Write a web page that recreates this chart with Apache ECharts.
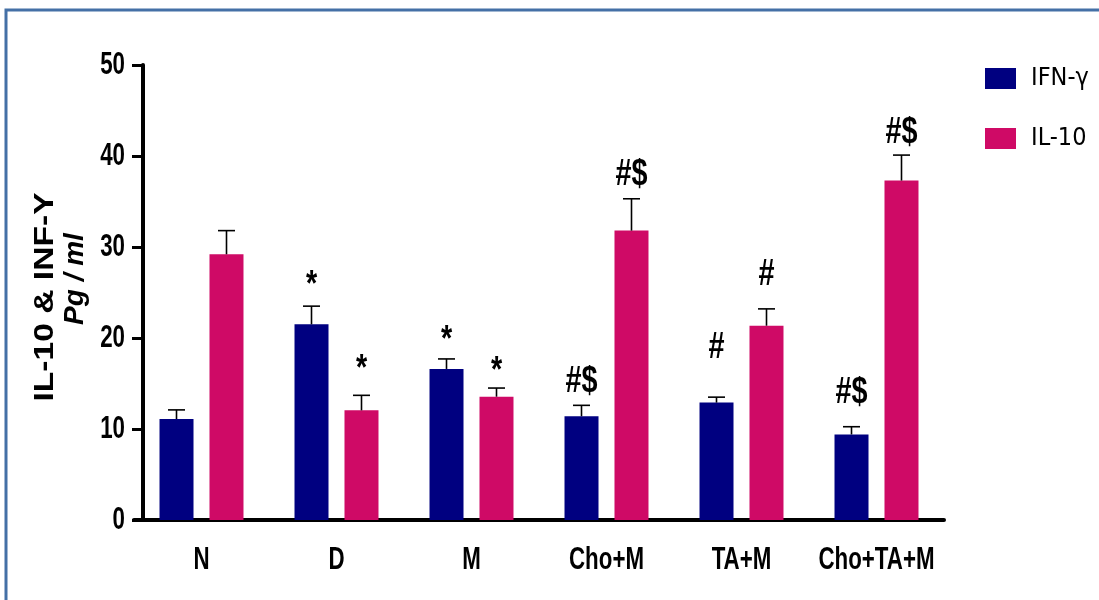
<!DOCTYPE html>
<html>
<head>
<meta charset="utf-8">
<script src="https://cdn.jsdelivr.net/npm/echarts@6/dist/echarts.min.js"></script>
<style>
  html, body { margin: 0; padding: 0; background: #fff; }
  #chart { width: 1099px; height: 600px; }
</style>
</head>
<body>
<div id="chart"></div>
<script>
// groups on the x axis
const groups = ['N', 'D', 'M', 'Cho+M', 'TA+M', 'Cho+TA+M'];
const yTicks = [0, 10, 20, 30, 40, 50];

// means and SEM
const ifnMean = [11.1, 21.5, 16.6, 11.4, 12.9, 9.4];
const ifnSem = [1.0, 2.0, 1.1, 1.2, 0.6, 0.85];
const ilMean = [29.2, 12.05, 13.55, 31.8, 21.35, 37.3];
const ilSem = [2.6, 1.65, 0.95, 3.5, 1.85, 2.8];

// significance marks and the height they sit at
const ifnMarks = ['', '*', '*', '#$', '#', '#$'];
const ifnMarkY = [0, 26.7, 20.7, 15.2, 18.9, 14.0];
const ilMarks = ['', '*', '*', '#$', '#', '#$'];
const ilMarkY = [0, 17.5, 17.25, 37.9, 26.9, 42.5];

// the figure's text is Arial bold squeezed sideways
const SANS = '"Liberation Sans", Arial, sans-serif';
const SQUEEZE = 0.72;
const BLUE = '#000080';
const PINK = '#CF0A66';

let chart = echarts.init(document.getElementById('chart'));

function errRender(offset) {
  return function (params, api) {
    let i = api.value(0);
    let top = api.coord([i, api.value(1) + api.value(2)]);
    let base = api.coord([i, api.value(1)]);
    let x = top[0] + offset;
    let st = { stroke: '#000', lineWidth: 1.6 };
    return {
      type: 'group',
      children: [
        { type: 'line', shape: { x1: x, y1: base[1], x2: x, y2: top[1] }, style: st },
        { type: 'line', shape: { x1: x - 8.5, y1: top[1], x2: x + 8.5, y2: top[1] }, style: st }
      ]
    };
  };
}

function markRender(offset, marks) {
  return function (params, api) {
    let i = api.value(0);
    let txt = marks[i];
    if (!txt) return null;
    let p = api.coord([i, api.value(1)]);
    let dy = txt === '*' ? 9 : 0;
    return {
      type: 'text',
      x: p[0] + offset,
      y: p[1] + dy,
      scaleX: 0.8,
      style: {
        text: txt,
        fill: '#000',
        font: 'bold 36px ' + SANS,
        align: 'center',
        verticalAlign: 'middle'
      }
    };
  };
}

// category names under the x axis ticks
function xLabelRender(params, api) {
  let i = api.value(0);
  let p = api.coord([i, 0]);
  return {
    type: 'text',
    x: p[0],
    y: p[1] + 40,
    scaleX: SQUEEZE,
    style: { text: groups[i], fill: '#000', font: 'bold 31px ' + SANS, align: 'center', verticalAlign: 'middle' }
  };
}

// numbers beside the y axis ticks
function yLabelRender(params, api) {
  let v = api.value(1);
  let p = api.coord([0, v]);
  return {
    type: 'text',
    x: params.coordSys.x - 9,
    y: p[1],
    scaleX: SQUEEZE,
    style: { text: String(v), fill: '#000', font: 'bold 31px ' + SANS, align: 'right', verticalAlign: 'middle' }
  };
}

let option = {
  animation: false,
  backgroundColor: '#fff',
  grid: { left: 134, width: 810, top: 65, bottom: 80 },
  legend: {
    orient: 'vertical',
    left: 980,
    top: 61,
    itemWidth: 31,
    itemHeight: 21,
    itemGap: 35,
    icon: 'rect',
    data: ['IFN-γ', 'IL-10'],
    textStyle: { fontFamily: "'DejaVu Sans Condensed', sans-serif", fontSize: 25, color: '#000', lineHeight: 21, padding: [0, 0, 0, 10] }
  },
  xAxis: {
    type: 'category',
    data: groups,
    axisLine: { lineStyle: { color: '#000', width: 4 } },
    axisTick: { alignWithLabel: true, length: 11, lineStyle: { color: '#000', width: 3 } },
    axisLabel: { show: false }
  },
  yAxis: {
    type: 'value',
    min: 0,
    max: 50,
    interval: 10,
    offset: -9,
    splitLine: { show: false },
    axisLine: { show: true, lineStyle: { color: '#000', width: 4 } },
    axisTick: { show: true, length: 11, lineStyle: { color: '#000', width: 3 } },
    axisLabel: { show: false }
  },
  graphic: [
    {
      type: 'rect', silent: true,
      shape: { x: 6, y: 10, width: 1300, height: 800 },
      style: { fill: null, stroke: '#4470A6', lineWidth: 3 }
    },
    {
      type: 'text', x: 45, y: 297, rotation: Math.PI / 2, scaleX: 1.2,
      style: { text: 'IL-10 & INF-Y', font: 'bold 28px ' + SANS, fill: '#000', align: 'center', verticalAlign: 'middle' }
    },
    {
      type: 'text', x: 75, y: 279, rotation: Math.PI / 2,
      style: { text: 'Pg / ml', font: 'italic bold 28px ' + SANS, fill: '#000', align: 'center', verticalAlign: 'middle' }
    }
  ],
  series: [
    {
      name: 'IFN-γ', type: 'bar', data: ifnMean, barWidth: 34, barGap: '47%',
      itemStyle: { color: BLUE }
    },
    {
      name: 'IL-10', type: 'bar', data: ilMean, barWidth: 34,
      itemStyle: { color: PINK }
    },
    {
      type: 'custom', z: 5, clip: false, renderItem: errRender(-25),
      data: ifnMean.map((v, i) => [i, v, ifnSem[i]])
    },
    {
      type: 'custom', z: 5, clip: false, renderItem: errRender(25),
      data: ilMean.map((v, i) => [i, v, ilSem[i]])
    },
    {
      type: 'custom', z: 6, clip: false, renderItem: markRender(-25, ifnMarks),
      data: ifnMarkY.map((v, i) => [i, v])
    },
    {
      type: 'custom', z: 6, clip: false, renderItem: markRender(25, ilMarks),
      data: ilMarkY.map((v, i) => [i, v])
    },
    {
      type: 'custom', z: 6, clip: false, silent: true, renderItem: xLabelRender,
      data: groups.map((g, i) => [i, 0])
    },
    {
      type: 'custom', z: 6, clip: false, silent: true, renderItem: yLabelRender,
      data: yTicks.map(v => [0, v])
    }
  ]
};

chart.setOption(option);
</script>
</body>
</html>
